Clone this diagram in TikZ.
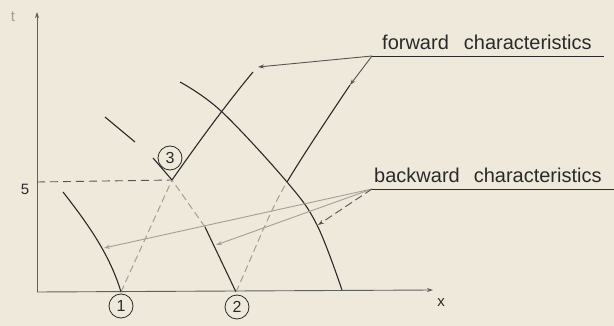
\documentclass[tikz,border=0pt]{standalone}
\usepackage{fontspec}
\setmainfont{Liberation Sans}
\usetikzlibrary{arrows.meta}
\definecolor{paper}{HTML}{EEE9DB}
\definecolor{ink}{HTML}{2A2A2A}
\definecolor{faint}{HTML}{A29E94}
\begin{document}
\begin{tikzpicture}[x=1pt,y=-1pt,
  curve/.style={draw=ink,line width=1.1pt},
  fcurve/.style={draw=faint,line width=1pt,dash pattern=on 7pt off 4pt},
  axis/.style={draw=ink!75,line width=0.9pt,-{Stealth[length=6pt,width=4pt]}},
  leader/.style={draw=ink!80,line width=0.9pt,-{Stealth[length=6pt,width=4pt]}},
  pnum/.style={circle,draw=ink,line width=0.8pt,minimum size=24pt,inner sep=0pt,font=\fontsize{16}{16}\selectfont,text=ink},
  lbl/.style={font=\fontsize{20}{24}\selectfont,text=ink,anchor=base west,inner sep=0pt},
  small/.style={font=\fontsize{15}{15}\selectfont,text=ink,inner sep=0pt}]
\fill[paper] (0,0) rectangle (614,326);
\useasboundingbox (0,0) rectangle (614,326);
% axes
\coordinate (O) at (37,292);
\coordinate (ytop) at (37,12);
\coordinate (xend) at (433,290);
\draw[axis] (O) -- (ytop);
\draw[axis] (O) -- (xend);
\node[small,text=faint] (tlab) at (13,17) {t};
\node[small] (xlab) at (441,303) {x};
\node[small] (tval) at (25,189) {5};
% key points
\coordinate (p1) at (121,292);
\coordinate (p2) at (236,292);
\coordinate (p3) at (172,180);
\coordinate (f1e) at (253,72);
\coordinate (b3a) at (153,158);
\coordinate (b3b) at (135,142);
\coordinate (b3e) at (105,117);
\coordinate (b2m) at (205,227);
\coordinate (h0) at (37,182);
\coordinate (f2m) at (287,182);
% dashed level line
\draw[ink!80,line width=0.9pt,dash pattern=on 8pt off 5pt] (h0) -- (p3);
% forward characteristic from 1
\draw[fcurve] (p1) -- (p3);
\draw[curve] (p3) .. controls (200,140) and (228,102) .. (f1e);
% backward characteristic from 2 through 3
\draw[curve] (p2) -- (b2m);
\draw[fcurve] (b2m) -- (p3);
\draw[curve] (p3) -- (b3a);
\draw[curve] (b3b) -- (b3e);
% backward characteristic into 1
\draw[curve] (63,192) .. controls (88,224) and (110,255) .. (p1);
% large backward characteristic
\draw[curve] plot[smooth,tension=0.6] coordinates {(180,82) (221,111) (287,182) (317,225) (342,290)};
% forward characteristic from 2
\coordinate (fl) at (372,56);
\coordinate (fa) at (350,85);
\draw[fcurve] (p2) .. controls (255,250) and (270,210) .. (f2m);
\draw[curve] (f2m) .. controls (305,152) and (330,115) .. (fa);
\draw[leader] (fl) -- (fa);
\draw[leader] (fl) -- (258,67);
% labels
\node[lbl] (fwd) at (382,50) {forward\hspace{15pt}characteristics};
\draw[ink,line width=0.9pt] (fl) -- (604,56);
\coordinate (bl) at (372,189);
\node[lbl] (bwd) at (374,183) {backward\hspace{14pt}characteristics};
\draw[ink,line width=0.9pt] (bl) -- (614,189);
\draw[leader,draw=faint] (bl) -- (104,248);
\draw[leader,draw=faint] (bl) -- (216,245);
\draw[leader,dash pattern=on 8pt off 4pt] (bl) -- (318,225);
% circled point numbers
\node[pnum] (n1) at (121,306) {1};
\node[pnum] (n2) at (237,307) {2};
\node[pnum] (n3) at (170,158) {3};
\end{tikzpicture}
\end{document}
